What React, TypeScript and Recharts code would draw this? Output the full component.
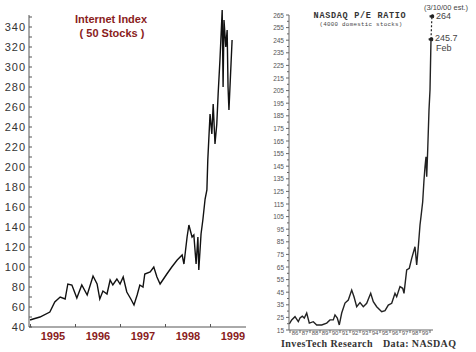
import React from 'react';
import { LineChart, Line, XAxis, YAxis, ReferenceLine } from 'recharts';

// ---- Internet Index (50 stocks) ----
const INET_T = [
  1994.99, 1995.06, 1995.21, 1995.43, 1995.54, 1995.66, 1995.77, 1995.83, 1995.92,
  1996.03, 1996.14, 1996.26, 1996.39, 1996.48, 1996.54, 1996.61, 1996.7, 1996.77,
  1996.83, 1996.92, 1996.99, 1997.06, 1997.14, 1997.23, 1997.3, 1997.37, 1997.43,
  1997.5, 1997.54, 1997.66, 1997.74, 1997.81, 1997.88, 1997.94, 1998.03, 1998.14,
  1998.26, 1998.37, 1998.41, 1998.48, 1998.52, 1998.59, 1998.63, 1998.68, 1998.72,
  1998.74, 1998.79, 1998.83, 1998.88, 1998.92, 1998.94, 1998.99, 1999.03, 1999.06,
  1999.1, 1999.14, 1999.17, 1999.21, 1999.26, 1999.28, 1999.3, 1999.34, 1999.37,
  1999.39, 1999.41, 1999.46, 1999.48,
];
const INET_V = [
  47, 48, 50, 55, 65, 70, 68, 83, 82,
  69, 82, 72, 91, 83, 68, 76, 73, 87,
  82, 88, 83, 90, 75, 68, 62, 72, 82,
  80, 93, 95, 100, 90, 83, 87, 93, 100,
  107, 112, 103, 130, 142, 130, 132, 103, 130,
  97, 133, 147, 168, 177, 207, 253, 233, 263,
  223, 243, 273, 307, 357, 280, 347, 320, 337,
  280, 257, 307, 327,
];
const INET_Y_TICKS = [40, 50, 60, 70, 80, 90, 100, 110, 120, 130, 140, 150, 160, 170, 180, 190, 200, 210, 220, 230, 240, 250, 260, 270, 280, 290, 300, 310, 320, 330, 340, 350];
const INET_X_TICKS = [1995, 1995.5, 1996, 1996.5, 1997, 1997.5, 1998, 1998.5, 1999, 1999.5];

// ---- NASDAQ P/E ratio ----
const PE_T = [
  1985.93, 1986.17, 1986.5, 1986.83, 1987.0, 1987.23, 1987.43, 1987.67, 1987.93,
  1988.33, 1988.67, 1989.17, 1989.67, 1990.0, 1990.33, 1990.5, 1990.73, 1990.93,
  1991.17, 1991.5, 1991.83, 1992.17, 1992.4, 1992.67, 1993.0, 1993.33, 1993.67,
  1993.93, 1994.07, 1994.33, 1994.67, 1995.17, 1995.5, 1995.83, 1996.17, 1996.5,
  1996.67, 1997.0, 1997.27, 1997.4, 1997.67, 1997.93, 1998.17, 1998.5, 1998.67,
  1998.83, 1999.0, 1999.1, 1999.27, 1999.4, 1999.5, 1999.6, 1999.67, 1999.77,
  1999.9, 2000.0, 2000.1,
];
const PE_V = [
  19.8, 23, 25.6, 21.6, 24.5, 26, 24.5, 28.5, 20.5,
  21.6, 19, 19, 20.5, 23, 23, 27, 24.5, 19,
  28.5, 36.4, 38.8, 46.7, 41.4, 33.5, 36.7, 33.5, 36.2,
  41.4, 44.1, 37.5, 33.5, 29.5, 30.3, 34.8, 36.2, 44.1,
  41.4, 49.4, 48.1, 44.1, 62.6, 64, 71.9, 81.1, 66.6,
  81, 98.3, 105, 116.8, 134, 144.6, 152.5, 136.7, 157.9,
  189.6, 205.5, 245.7,
];
const PE_EST_T = [2000.1, 2000.19];
const PE_EST_V = [245.7, 264];
const PE_Y_TICKS = [15, 20, 25, 30, 35, 40, 45, 50, 55, 60, 65, 70, 75, 80, 85, 90, 95, 100, 105, 110, 115, 120, 125, 130, 135, 140, 145, 150, 155, 160, 165, 170, 175, 180, 185, 190, 195, 200, 205, 210, 215, 220, 225, 230, 235, 240, 245, 250, 255, 260, 265];
const PE_X_TICKS = [1986, 1986.5, 1987, 1987.5, 1988, 1988.5, 1989, 1989.5, 1990, 1990.5, 1991, 1991.5, 1992, 1992.5, 1993, 1993.5, 1994, 1994.5, 1995, 1995.5, 1996, 1996.5, 1997, 1997.5, 1998, 1998.5, 1999, 1999.5, 2000];

const inetData = INET_T.map((t, i) => ({ t, v: INET_V[i] }));
const peData = PE_T.map((t, i) => ({ t, v: PE_V[i] }));
const peEst = PE_EST_T.map((t, i) => ({ t, v: PE_EST_V[i] }));

const RED = '#8a1c1c';

const InetYTick = (p: any) => {
  const { x, y, payload } = p;
  const v = payload.value;
  return (
    <g>
      <line x1={x} x2={x + 3} y1={y} y2={y} stroke="#555" strokeWidth={1} />
      {v % 20 === 0 && v <= 340 ? (
        <text x={x - 3} y={y} dy={4} textAnchor="end" fontSize={11} fill="#333"
          fontFamily="Liberation Sans, Arial, sans-serif" letterSpacing={1}>{v}</text>
      ) : null}
    </g>
  );
};

const InetXTick = (p: any) => {
  const { x, y, payload } = p;
  const v = payload.value;
  if (Number.isInteger(v)) {
    return <line x1={x} x2={x} y1={y} y2={y - 3} stroke="#555" strokeWidth={1} />;
  }
  return (
    <text x={x} y={y + 13} textAnchor="middle" fontSize={11} fontWeight="bold" fill={RED}
      fontFamily="Liberation Sans Narrow, Arial Narrow, Liberation Sans, sans-serif">{Math.floor(v)}</text>
  );
};

const PeYTick = (p: any) => {
  const { x, y, payload } = p;
  const v = payload.value;
  const major = (v - 15) % 10 === 0;
  return (
    <g>
      <line x1={x} x2={x - (major ? 3 : 2)} y1={y} y2={y} stroke="#666" strokeWidth={1} />
      {major ? (
        <text x={x - 5} y={y} dy={2.5} textAnchor="end" fontSize={6.5} fill="#555"
          fontFamily="Liberation Sans, Arial, sans-serif">{v}</text>
      ) : null}
    </g>
  );
};

const PeXTick = (p: any) => {
  const { x, y, payload } = p;
  const v = payload.value;
  if (Number.isInteger(v)) {
    return <line x1={x} x2={x} y1={y} y2={y + 3} stroke="#666" strokeWidth={1} />;
  }
  return (
    <text x={x} y={y + 5} textAnchor="middle" fontSize={6} fill="#555"
      fontFamily="Liberation Sans, Arial, sans-serif">{String(Math.floor(v)).slice(2)}</text>
  );
};

export default function App() {
  return (
    <div style={{ position: 'absolute', left: 0, top: 0, width: 476, height: 352, background: '#fff', overflow: 'hidden' }}>
      <div style={{ position: 'absolute', left: 0, top: 0 }}>
        <LineChart width={250} height={352} data={inetData} margin={{ top: 7, right: 4, bottom: 0, left: 0 }}>
          <XAxis dataKey="t" type="number" domain={[1994.967, 1999.789]} ticks={INET_X_TICKS} interval={0}
            height={25} tickSize={0} tickMargin={0} tickLine={false} stroke="#555" tick={(p: any) => <InetXTick {...p} />} />
          <YAxis type="number" domain={[40, 360]} ticks={INET_Y_TICKS} interval={0} width={29}
            tickSize={0} tickMargin={0} tickLine={false} axisLine={false} tick={(p: any) => <InetYTick {...p} />} />
          <ReferenceLine segment={[{ x: 1994.967, y: 40 }, { x: 1994.967, y: 352 }]} stroke="#555" strokeWidth={1} />
          <Line dataKey="v" stroke="#111" strokeWidth={1.4} dot={false} isAnimationActive={false} />
        </LineChart>
      </div>
      <div style={{ position: 'absolute', left: 250, top: 0 }}>
        <LineChart width={226} height={352} margin={{ top: 15, right: 43, bottom: 0, left: 0 }}>
          <XAxis dataKey="t" type="number" domain={[1985.9, 2000.3]} ticks={PE_X_TICKS} interval={0}
            height={22} tickSize={0} tickMargin={0} tickLine={false} stroke="#666" tick={(p: any) => <PeXTick {...p} />} />
          <YAxis type="number" domain={[15, 265]} ticks={PE_Y_TICKS} interval={0} width={39}
            tickSize={0} tickMargin={0} tickLine={false} stroke="#666" tick={(p: any) => <PeYTick {...p} />} />
          <Line data={peData} dataKey="v" stroke="#222" strokeWidth={1.4} dot={false} isAnimationActive={false} />
          <Line data={peEst} dataKey="v" stroke="#222" strokeWidth={1.2} strokeDasharray="2 2"
            dot={{ r: 1.8, fill: '#222', stroke: '#222' }} isAnimationActive={false} />
        </LineChart>
      </div>
      <svg width={476} height={352} style={{ position: 'absolute', left: 0, top: 0, pointerEvents: 'none' }}>
        <text x={111} y={23} textAnchor="middle" fontSize={11} fontWeight="bold" fill={RED}
          fontFamily="Liberation Sans, Arial, sans-serif">Internet Index</text>
        <text x={112} y={37} textAnchor="middle" fontSize={11} fontWeight="bold" fill={RED}
          fontFamily="Liberation Sans, Arial, sans-serif">( 50 Stocks )</text>
        <text x={360} y={18} textAnchor="middle" fontSize={8.5} fontWeight="bold" fill="#333" letterSpacing={0.7}
          fontFamily="Liberation Mono, DejaVu Sans Mono, monospace">NASDAQ P/E RATIO</text>
        <text x={361} y={25.5} textAnchor="middle" fontSize={5.8} fill="#444" letterSpacing={0.3}
          fontFamily="Liberation Mono, DejaVu Sans Mono, monospace">(4000 domestic stocks)</text>
        <text x={446} y={10} textAnchor="middle" fontSize={7.5} fill="#444"
          fontFamily="Liberation Sans, Arial, sans-serif">(3/10/00 est.)</text>
        <text x={436} y={19} fontSize={9} fill="#444" fontFamily="Liberation Sans, Arial, sans-serif">264</text>
        <text x={435} y={41} fontSize={9} fill="#444" fontFamily="Liberation Sans, Arial, sans-serif">245.7</text>
        <text x={436} y={51} fontSize={9} fill="#444" fontFamily="Liberation Sans, Arial, sans-serif">Feb</text>
        <text x={281} y={347} fontSize={10} fontWeight="bold" fill="#333" letterSpacing={0.4}
          fontFamily="Liberation Serif, Times New Roman, serif">InvesTech Research</text>
        <text x={383} y={347} fontSize={10} fontWeight="bold" fill="#333" letterSpacing={0.4}
          fontFamily="Liberation Serif, Times New Roman, serif">Data: NASDAQ</text>
      </svg>
    </div>
  );
}
